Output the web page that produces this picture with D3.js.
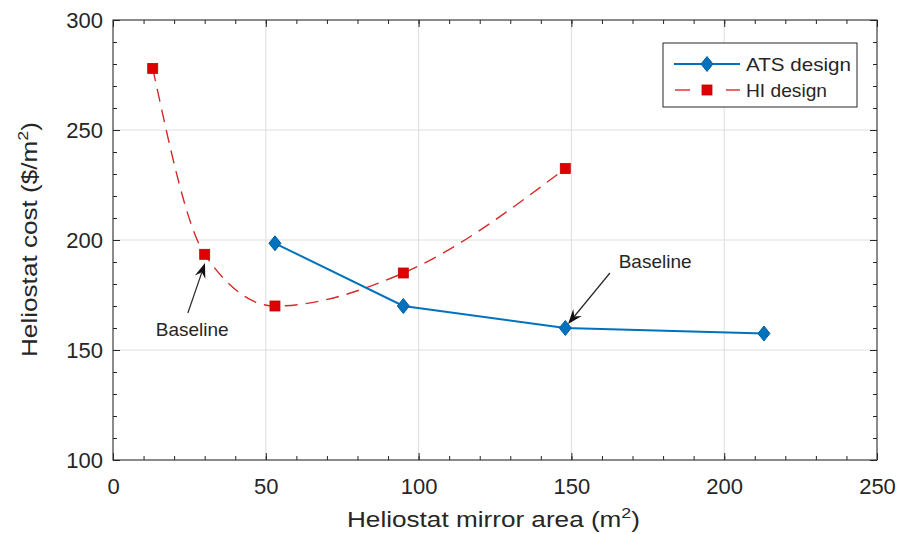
<!DOCTYPE html>
<html>
<head>
<meta charset="utf-8">
<script src="https://cdn.jsdelivr.net/npm/d3@7"></script>
<style>
  body { margin: 0; background: #fff; }
  svg { display: block; font-family: "Liberation Sans", Arial, sans-serif; }
</style>
</head>
<body>
<div id="chart"></div>
<script>
// data
const atsArea = [53, 95, 148, 213];
const atsCost = [198.5, 170, 160, 157.5];
const hiArea = [13, 30, 53, 95, 148];
const hiCost = [278, 193.5, 170, 185, 232.5];
const xTicks = [0, 50, 100, 150, 200, 250];
const yTicks = [100, 150, 200, 250, 300];
const seriesNames = ['ATS design', 'HI design'];
// "Baseline" notes, in data units: arrow tail, arrow tip, label centre
const noteTail = [[24.5, 166.8], [162.6, 185]];
const noteTip = [[30.1, 189.5], [148.9, 161.8]];
const noteText = [[25.9, 156.4], [177.4, 187.3]];

const width = 898, height = 534;
const plotL = 113, plotR = 877, plotT = 20, plotB = 460;
const ink = '#262626';

const svg = d3.select('#chart').append('svg')
  .attr('width', width).attr('height', height);

const x = d3.scaleLinear().domain([0, 250]).range([plotL, plotR]);
const y = d3.scaleLinear().domain([100, 300]).range([plotB, plotT]);

// grid
const grid = svg.append('g').attr('stroke', '#dedede').attr('stroke-width', 1);
grid.selectAll('.gx').data(xTicks).join('line').attr('class', 'gx')
  .attr('x1', d => x(d)).attr('x2', d => x(d)).attr('y1', plotT).attr('y2', plotB);
grid.selectAll('.gy').data(yTicks).join('line').attr('class', 'gy')
  .attr('y1', d => y(d)).attr('y2', d => y(d)).attr('x1', plotL).attr('x2', plotR);

// axes, ticks pointing inward on all four sides
const minorX = d3.range(0, 251, 10), minorY = d3.range(100, 301, 10);
function styleAxis(g) {
  g.select('.domain').remove();
  g.selectAll('line').attr('stroke', ink);
  g.selectAll('text').attr('fill', ink).attr('font-size', 22)
    .attr('font-family', '"Liberation Sans", Arial, sans-serif');
}
svg.append('g').attr('transform', `translate(0,${plotB})`)
  .call(d3.axisBottom(x).tickValues(minorX).tickFormat('').tickSize(-4)).call(styleAxis);
svg.append('g').attr('transform', `translate(0,${plotB})`)
  .call(d3.axisBottom(x).tickValues(xTicks).tickSize(-7).tickPadding(18)).call(styleAxis);
svg.append('g').attr('transform', `translate(0,${plotT})`)
  .call(d3.axisTop(x).tickValues(minorX).tickFormat('').tickSize(-4)).call(styleAxis);
svg.append('g').attr('transform', `translate(0,${plotT})`)
  .call(d3.axisTop(x).tickValues(xTicks).tickFormat('').tickSize(-7)).call(styleAxis);
svg.append('g').attr('transform', `translate(${plotL},0)`)
  .call(d3.axisLeft(y).tickValues(minorY).tickFormat('').tickSize(-4)).call(styleAxis);
svg.append('g').attr('transform', `translate(${plotL},0)`)
  .call(d3.axisLeft(y).tickValues(yTicks).tickSize(-7).tickPadding(10)).call(styleAxis);
svg.append('g').attr('transform', `translate(${plotR},0)`)
  .call(d3.axisRight(y).tickValues(minorY).tickFormat('').tickSize(-4)).call(styleAxis);
svg.append('g').attr('transform', `translate(${plotR},0)`)
  .call(d3.axisRight(y).tickValues(yTicks).tickFormat('').tickSize(-7)).call(styleAxis);

svg.append('rect').attr('x', plotL).attr('y', plotT)
  .attr('width', plotR - plotL).attr('height', plotB - plotT)
  .attr('fill', 'none').attr('stroke', ink).attr('stroke-width', 1);

// axis titles
const xt = svg.append('text').attr('x', 347).attr('y', 527)
  .attr('font-size', 22).attr('fill', ink)
  .attr('textLength', 293).attr('lengthAdjust', 'spacingAndGlyphs');
xt.append('tspan').text('Heliostat mirror area (m');
xt.append('tspan').attr('font-size', 15).attr('dy', -9).text('2');
xt.append('tspan').attr('dy', 9).text(')');

const yt = svg.append('text').attr('transform', 'translate(37,357) rotate(-90)')
  .attr('font-size', 22).attr('fill', ink)
  .attr('textLength', 235).attr('lengthAdjust', 'spacingAndGlyphs');
yt.append('tspan').text('Heliostat cost ($/m');
yt.append('tspan').attr('font-size', 15).attr('dy', -9).text('2');
yt.append('tspan').attr('dy', 9).text(')');

// series
const blue = '#0072bd', red = '#e00000';
const atsPts = atsArea.map((a, i) => [a, atsCost[i]]);
const hiPts = hiArea.map((a, i) => [a, hiCost[i]]);

svg.append('path').datum(hiPts)
  .attr('d', d3.line().x(d => x(d[0])).y(d => y(d[1])).curve(d3.curveMonotoneX))
  .attr('fill', 'none').attr('stroke', '#d42a2a').attr('stroke-width', 1.4)
  .attr('stroke-dasharray', '13,8');

svg.append('path').datum(atsPts)
  .attr('d', d3.line().x(d => x(d[0])).y(d => y(d[1])))
  .attr('fill', 'none').attr('stroke', blue).attr('stroke-width', 2);

function diamond(g, cx, cy) {
  g.append('path')
    .attr('d', `M${cx},${cy - 7.5}L${cx + 6},${cy}L${cx},${cy + 7.5}L${cx - 6},${cy}Z`)
    .attr('fill', blue).attr('stroke', '#005f9e').attr('stroke-width', 1);
}
function square(g, cx, cy) {
  g.append('rect').attr('x', cx - 5).attr('y', cy - 5).attr('width', 10).attr('height', 10)
    .attr('fill', red).attr('stroke', '#c00000').attr('stroke-width', 0.8);
}
const marks = svg.append('g');
hiPts.forEach(d => square(marks, x(d[0]), y(d[1])));
atsPts.forEach(d => diamond(marks, x(d[0]), y(d[1])));

// annotations
noteTail.forEach((t, i) => {
  const x0 = x(t[0]), y0 = y(t[1]), x1 = x(noteTip[i][0]), y1 = y(noteTip[i][1]);
  const ang = Math.atan2(y1 - y0, x1 - x0);
  const L = 15, W = 5.5;
  const bx = x1 - L * Math.cos(ang), by = y1 - L * Math.sin(ang);
  const nx = -Math.sin(ang), ny = Math.cos(ang);
  const mx = x1 - L * 0.65 * Math.cos(ang), my = y1 - L * 0.65 * Math.sin(ang);
  svg.append('line').attr('x1', x0).attr('y1', y0).attr('x2', mx).attr('y2', my)
    .attr('stroke', ink).attr('stroke-width', 1.2);
  svg.append('path')
    .attr('d', `M${x1},${y1}L${bx + nx * W},${by + ny * W}L${mx},${my}L${bx - nx * W},${by - ny * W}Z`)
    .attr('fill', '#111');
  svg.append('text').attr('x', x(noteText[i][0])).attr('y', y(noteText[i][1]))
    .attr('text-anchor', 'middle').attr('font-size', 19).attr('fill', ink)
    .text('Baseline');
});

// legend
const lg = svg.append('g');
lg.append('rect').attr('x', 663).attr('y', 43).attr('width', 194).attr('height', 64)
  .attr('fill', '#fff').attr('stroke', ink).attr('stroke-width', 1);
const rowY = [64, 90];
lg.append('line').attr('x1', 674).attr('x2', 740).attr('y1', rowY[0]).attr('y2', rowY[0])
  .attr('stroke', blue).attr('stroke-width', 2);
diamond(lg, 707, rowY[0]);
[[675, 690], [726, 740]].forEach(s => {
  lg.append('line').attr('x1', s[0]).attr('x2', s[1]).attr('y1', rowY[1]).attr('y2', rowY[1])
    .attr('stroke', '#d42a2a').attr('stroke-width', 1.4);
});
square(lg, 707, rowY[1]);
const legendLen = [105, 81];
seriesNames.forEach((s, i) => {
  lg.append('text').attr('x', 746).attr('y', rowY[i] + 7)
    .attr('font-size', 19).attr('fill', ink)
    .attr('textLength', legendLen[i]).attr('lengthAdjust', 'spacingAndGlyphs')
    .text(s);
});
</script>
</body>
</html>
